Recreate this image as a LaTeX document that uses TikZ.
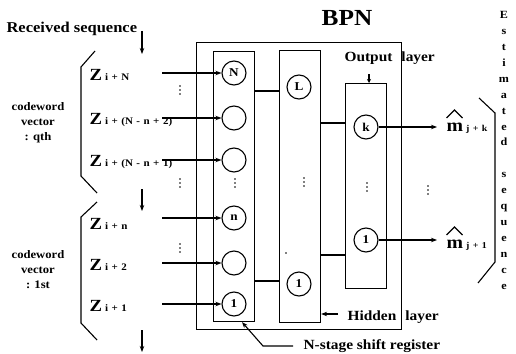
\documentclass[tikz,border=0pt]{standalone}
\usepackage{fontspec}
\setmainfont[FakeStretch=1.1]{Liberation Serif}
\usetikzlibrary{arrows.meta}
\newcommand\zlab[2]{{\fontsize{17}{17}\selectfont\bfseries #1}\hspace{3pt}{\fontsize{10}{10}\selectfont\bfseries\spaceskip=3.5pt #2}}
\newcommand\mlab[1]{{\fontsize{18}{18}\selectfont\bfseries m}\hspace{3pt}{\fontsize{9}{9}\selectfont\bfseries\spaceskip=3.5pt #1}}
\begin{document}
\begin{tikzpicture}[x=1pt,y=-1pt,line width=1.1pt,
  neuron/.style={circle,draw,minimum size=24pt,inner sep=0pt,font=\bfseries\fontsize{12}{12}\selectfont},
  layerbox/.style={draw,inner sep=0pt,anchor=north west},
  arr/.style={-{Stealth[length=6pt,width=4.5pt]}},
  lbl/.style={inner sep=0pt,font=\bfseries\fontsize{14}{14}\selectfont},
  small/.style={inner sep=0pt,align=center,font=\bfseries\fontsize{11.5}{15}\selectfont},
  zl/.style={inner sep=0pt,anchor=base west},
  hat/.style={line width=1.3pt,line join=miter},
  dotcol/.pic={\fill (0,-4) circle (0.95pt) (0,0) circle (0.95pt) (0,4) circle (0.95pt);},
]
\useasboundingbox (0,0) rectangle (516,353);

% boxes
\node[layerbox,minimum width=205pt,minimum height=287pt] (outer) at (196,42) {};
\node[layerbox,minimum width=41pt,minimum height=270pt] (shift) at (213,51) {};
\node[layerbox,minimum width=41pt,minimum height=272pt] (hidden) at (279,50) {};
\node[layerbox,minimum width=41pt,minimum height=205pt] (output) at (345,83) {};

% neurons
\node[neuron] (sN) at (234,73) {N};
\node[neuron] (s2) at (234,118) {};
\node[neuron] (s3) at (234,160) {};
\node[neuron] (sn) at (234,218) {n};
\node[neuron] (s5) at (234,263) {};
\node[neuron] (s1) at (234,304) {1};
\node[neuron] (hL) at (299,87) {L};
\node[neuron] (h1) at (299,284) {1};
\node[neuron] (ok) at (366,127) {k};
\node[neuron] (o1) at (366,240) {1};

% box connections
\coordinate (y91) at (0,91);
\coordinate (y281) at (0,281);
\coordinate (y123) at (0,123);
\coordinate (y255) at (0,255);
\draw (shift.east |- y91) -- (hidden.west |- y91);
\draw (shift.east |- y281) -- (hidden.west |- y281);
\draw (hidden.east |- y123) -- (output.west |- y123);
\draw (hidden.east |- y255) -- (output.west |- y255);

% titles
\node[inner sep=0pt,anchor=base,font=\bfseries\fontsize{23}{23}\selectfont] (bpn) at (347,26) {BPN};
\node[lbl,anchor=base west,font=\bfseries\fontsize{15}{15}\selectfont] (recv) at (6,33) {Received sequence};
\coordinate (recvstart) at (142,31);
\coordinate (recvend) at (142,54);
\draw[arr] (recvstart) -- (recvend);

% input labels
\node[zl] (zN) at (89,80) {\zlab{Z}{i + N}};
\node[zl] (z2) at (89,124) {\zlab{Z}{i + (N - n + 2)}};
\node[zl] (z3) at (89,166) {\zlab{Z}{i + (N - n + 1)}};
\node[zl] (zn) at (89,229) {\zlab{Z}{i + n}};
\node[zl] (z5) at (89,270) {\zlab{Z}{i + 2}};
\node[zl] (z1) at (89,311) {\zlab{Z}{i + 1}};

% input arrows
\coordinate (iN) at (162,73);
\coordinate (i2) at (162,118);
\coordinate (i3) at (162,160);
\coordinate (in) at (162,218);
\coordinate (i5) at (162,263);
\coordinate (i1) at (162,304);
\draw[arr] (iN) -- (sN);
\draw[arr] (i2) -- (s2);
\draw[arr] (i3) -- (s3);
\draw[arr] (in) -- (sn);
\draw[arr] (i5) -- (s5);
\draw[arr] (i1) -- (s1);

% codeword texts
\node[small] (cwq) at (38,123) {codeword\\vector\\: qth};
\node[small] (cw1) at (38,270) {codeword\\vector\\: 1st};

% left brackets
\draw (95,51) -- (81,67) -- (81,176) -- (97,193);
\draw (97,202) -- (81,217) -- (81,323) -- (97,340);

% down arrows
\coordinate (da1) at (142,189);
\coordinate (da1e) at (142,211);
\coordinate (da2) at (142,330);
\coordinate (da2e) at (142,352);
\draw[arr] (da1) -- (da1e);
\draw[arr] (da2) -- (da2e);

% vertical dots
\pic at (180,90) {dotcol};
\pic at (180,183) {dotcol};
\pic at (235,183) {dotcol};
\pic at (180,248) {dotcol};
\pic at (304,182) {dotcol};
\pic at (367,187) {dotcol};
\pic at (428,190) {dotcol};
\fill (286,253) circle (0.8pt);

% outputs
\node[inner sep=0pt,anchor=base west] (mk) at (446,131) {\mlab{j + k}};
\node[inner sep=0pt,anchor=base west] (m1) at (446,248) {\mlab{j + 1}};
\draw[hat] ([xshift=0.5pt]mk.base west) ++(0,-13) -- ++(8,-8) -- ++(8,8);
\draw[hat] ([xshift=0.5pt]m1.base west) ++(0,-13) -- ++(8,-8) -- ++(8,8);
\draw[arr,shorten >=9pt] (ok) -- (ok -| mk.west);
\draw[arr,shorten >=9pt] (o1) -- (o1 -| m1.west);

% right bracket
\draw (479,98) -- (495,113) -- (495,262) -- (478,283);

% estimated sequence
\node[inner sep=0pt,anchor=north,align=center,font=\bfseries\fontsize{11}{15.9}\selectfont] (est) at (504,11)
  {E\\s\\t\\i\\m\\a\\t\\e\\d\\[15.9pt]s\\e\\q\\u\\e\\n\\c\\e};

% layer labels
\node[lbl,anchor=base west] (outl) at (344,61) {Output\hspace{9pt}layer};
\coordinate (outa) at (369,74);
\draw[-{Stealth[length=4pt,width=4pt]}] (outa) -- (output.north -| outa);
\node[lbl,anchor=base west] (hidl) at (347,320) {Hidden\hspace{9pt}layer};
\coordinate (hida) at (338,314);
\draw[arr] (hida) -- (hidden.east |- hida);
\node[lbl,anchor=base west] (nsl) at (303,349) {N-stage shift register};
\coordinate (nsa) at (293,346);
\coordinate (nsb) at (263,346);
\draw[arr] (nsa) -- (nsb) -- (shift.south -| 242,0);
\end{tikzpicture}
\end{document}
